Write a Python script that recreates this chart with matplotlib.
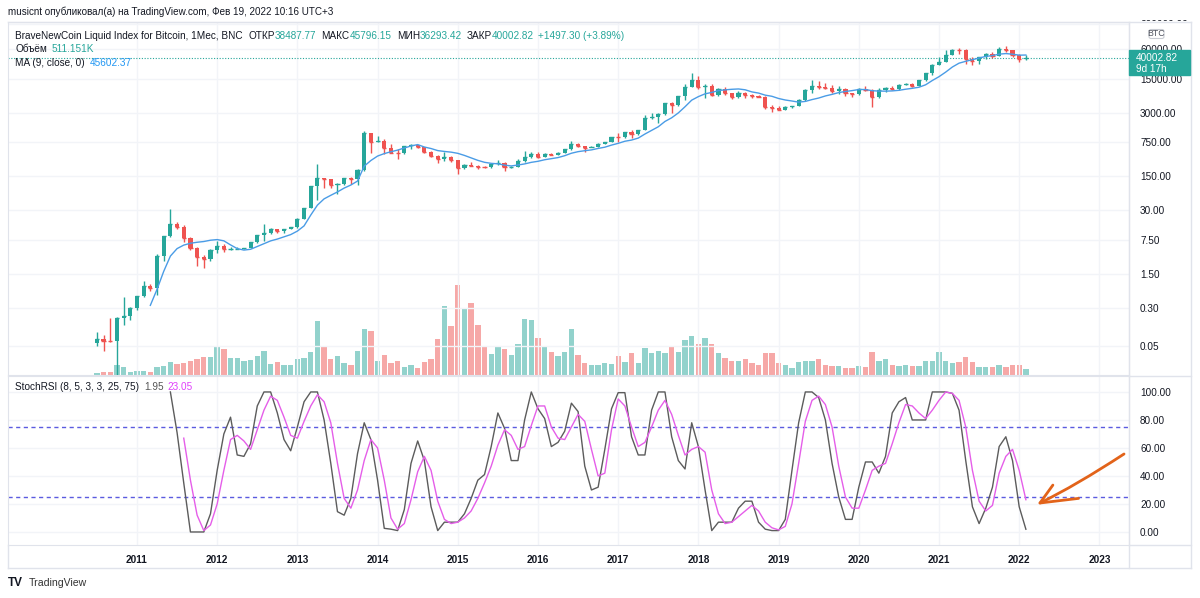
import numpy as np
import pandas as pd
import matplotlib
matplotlib.use("Agg")
import matplotlib.pyplot as plt
from matplotlib.lines import Line2D
from matplotlib.patches import Rectangle, FancyBboxPatch, PathPatch
from matplotlib.path import Path
from matplotlib.transforms import IdentityTransform, Bbox
from matplotlib.ticker import NullLocator

plt.rcParams['font.family'] = ['Liberation Sans', 'DejaVu Sans']

# monthly BNC BTC index, Jul 2010 .. Feb 2022
opens = [0.058, 0.070, 0.064, 0.062, 0.190, 0.210,
         0.30, 0.52, 0.86, 0.78, 3.50, 8.74, 16.1, 13.4, 8.2, 5.1, 3.25, 3.0,
         4.7, 5.5, 4.86, 4.9, 4.95, 5.17, 6.69, 9.35, 10.15, 12.4, 11.2, 12.6,
         13.5, 20.4, 33.4, 93, 139, 129, 97, 106, 141, 133, 204, 1130,
         757, 800, 560, 457, 448, 628, 640, 587, 481, 388, 338, 378,
         320, 217, 254, 244, 236, 230, 263, 284, 230, 236, 314, 377,
         430, 368, 437, 416, 448, 531, 673, 624, 575, 608, 698, 742,
         963, 958, 1190, 1080, 1348, 2300, 2480, 2875, 4700, 4340, 6468, 10233,
         14156, 10221, 10397, 6973, 9240, 7494, 6404, 7780, 7037, 6625, 6318, 4017,
         3742, 3457, 3854, 4105, 5350, 8574, 10817, 10085, 9630, 8293, 9199, 7569,
         7193, 9350, 8599, 6438, 8658, 9461, 9137, 11323, 11680, 10784, 13781, 19625,
         29001, 33114, 45137, 58918, 57750, 37332, 35040, 41626, 47166, 43790, 61318, 57005,
         46306, 38487.77]
highs = [0.095, 0.085, 0.190, 0.195, 0.500, 0.310,
         0.54, 1.06, 0.95, 3.80, 9.00, 31.9, 17.5, 15.0, 8.6, 5.4, 3.6, 4.8,
         7.2, 6.1, 5.4, 5.4, 5.2, 6.8, 9.5, 16.0, 12.9, 12.6, 12.7, 13.8,
         21.0, 33.8, 95, 266, 139, 130, 111, 141, 146, 211, 1242, 1150,
         1000, 850, 700, 550, 630, 680, 660, 600, 490, 415, 460, 390,
         320, 270, 300, 260, 248, 268, 320, 288, 243, 336, 500, 470,
         462, 447, 440, 470, 550, 780, 705, 630, 630, 720, 750, 975,
         1160, 1210, 1300, 1350, 2760, 3000, 2930, 4770, 4980, 6470, 11500, 19800,
         17200, 11800, 11700, 9800, 10000, 7770, 8500, 7800, 7410, 7000, 6600, 4250,
         4100, 4200, 4110, 5640, 9100, 13900, 13200, 12300, 10950, 10400, 9500, 7750,
         9600, 10500, 9200, 9450, 10080, 10400, 11450, 12480, 12100, 14100, 19900, 29300,
         41900, 58300, 61800, 64800, 59600, 41300, 42300, 50500, 52900, 67000, 69000, 59100,
         47900, 45796.15]
lows = [0.050, 0.040, 0.060, 0.013, 0.135, 0.170,
        0.27, 0.50, 0.68, 0.56, 2.80, 8.70, 12.7, 6.6, 4.6, 2.2, 2.0, 2.8,
        4.0, 4.2, 4.7, 4.8, 4.9, 5.1, 6.4, 7.0, 9.9, 10.1, 10.5, 12.3,
        13.3, 19.5, 33, 50, 85, 88, 65, 100, 103, 100, 196, 450,
        750, 430, 440, 340, 420, 545, 575, 440, 370, 275, 310, 300,
        165, 210, 238, 214, 226, 220, 253, 195, 225, 236, 300, 350,
        350, 365, 400, 410, 440, 520, 600, 470, 590, 600, 680, 740,
        750, 930, 890, 1070, 1350, 2200, 1830, 2640, 2950, 4150, 5500, 10000,
        9100, 6000, 6600, 6500, 7050, 5780, 6100, 5880, 6140, 6200, 3550, 3120,
        3350, 3380, 3700, 4080, 5330, 7500, 9100, 9400, 7700, 7300, 6500, 6430,
        6860, 8450, 3850, 6150, 8120, 8900, 8960, 10970, 9880, 10520, 13200, 17600,
        28100, 32300, 45000, 47000, 30000, 28800, 29300, 37400, 39600, 43300, 53500, 42000,
        33000, 36293.42]
closes = [0.070, 0.064, 0.062, 0.190, 0.210, 0.300,
          0.52, 0.86, 0.78, 3.50, 8.74, 16.1, 13.4, 8.2, 5.1, 3.25, 3.0, 4.7,
          5.5, 4.86, 4.9, 4.95, 5.17, 6.69, 9.35, 10.15, 12.4, 11.2, 12.6, 13.5,
          20.4, 33.4, 93, 139, 129, 97, 106, 141, 133, 204, 1130, 757,
          800, 560, 457, 448, 628, 640, 587, 481, 388, 338, 378, 320,
          217, 254, 244, 236, 230, 263, 284, 230, 236, 314, 377, 430,
          368, 437, 416, 448, 531, 673, 624, 575, 608, 698, 742, 963,
          958, 1190, 1080, 1348, 2300, 2480, 2875, 4700, 4340, 6468, 10233, 14156,
          10221, 10397, 6973, 9240, 7494, 6404, 7780, 7037, 6625, 6318, 4017, 3742,
          3457, 3854, 4105, 5350, 8574, 10817, 10085, 9630, 8293, 9199, 7569, 7193,
          9350, 8599, 6438, 8658, 9461, 9137, 11323, 11680, 10784, 13781, 19625, 29001,
          33114, 45137, 58918, 57750, 37332, 35040, 41626, 47166, 43790, 61318, 57005, 46306,
          38487.77, 40002.82]
# volume, relative units
volume = [5, 9, 9, 30, 23, 10, 12, 12, 8, 24,
          26, 39, 31, 35, 42, 48, 54, 52, 86, 76,
          50, 50, 40, 44, 56, 72, 33, 39, 28, 30,
          46, 50, 68, 159, 82, 46, 56, 34, 30, 72,
          135, 131, 40, 60, 36, 42, 24, 28, 20, 38,
          48, 105, 203, 145, 265, 196, 213, 146, 86, 62,
          86, 76, 60, 92, 164, 163, 108, 82, 69, 56,
          69, 135, 58, 36, 28, 30, 34, 32, 56, 38,
          66, 36, 80, 66, 72, 66, 84, 68, 104, 116,
          90, 108, 92, 66, 50, 42, 42, 48, 36, 28,
          66, 64, 34, 30, 22, 38, 42, 42, 46, 30,
          26, 26, 22, 20, 26, 24, 68, 40, 46, 28,
          26, 28, 26, 26, 40, 40, 68, 42, 34, 38,
          52, 38, 24, 24, 24, 28, 24, 28, 30, 18]
last_volume = '511.151K'
last_ma = 45602.37

# StochRSI: K from Jun 2011, D from Aug 2011
K_START, D_START = 11, 13
stoch_k = [100, 71, 35, 0, 0, 0, 13, 44, 70, 82,
           55, 54, 63, 90, 100, 100, 85, 66, 58, 75,
           93, 100, 100, 80, 49, 14.5, 12, 24, 56, 78,
           66, 37, 2.6, 2, 1, 16, 49, 65, 51, 18,
           1, 7, 7, 7, 13, 24, 37, 41, 61, 85,
           74, 51, 51, 80, 100, 88, 81, 61, 64, 72,
           92, 86, 47, 30, 32, 59, 88, 99.5, 99.5, 68,
           55, 55, 87, 100, 100, 68, 51, 45, 78, 61,
           30, 1, 7, 7, 7, 17, 22, 22, 7, 2,
           1, 1, 9, 44, 78, 100, 100, 96, 80, 49,
           25, 9, 9, 32, 50, 50, 42, 54, 85, 93,
           96, 80, 80, 80, 100, 100, 100, 99, 87, 51,
           18, 6, 17, 32, 61, 68, 51, 18, 1.95]
stoch_d = [67, 37, 12, 1, 5, 20, 44, 66,
           69, 65, 59, 73, 87, 97, 94, 82, 69, 67,
           79, 90, 98, 93, 78, 49, 24, 17, 30, 51,
           66, 60, 37, 10, 2, 6, 23, 43, 54, 44,
           22, 9, 6, 7, 10, 15, 24, 35, 47, 62,
           73, 69, 59, 61, 76, 90, 90, 75, 67, 66,
           75, 84, 79, 59, 40, 42, 73, 95, 90, 75,
           61, 64, 75, 87, 94, 84, 69, 55, 59, 61,
           57, 30, 13, 6, 7, 11, 15, 19, 15, 7,
           3, 1.5, 4, 20, 49, 79, 94, 97, 91, 75,
           47, 25, 17, 17, 30, 44, 47, 49, 63, 78,
           91, 90, 85, 81, 87, 94, 100, 99, 94, 75,
           44, 22, 15, 19, 42, 54, 59, 44, 23.05]

price_ticks = [0.05, 0.30, 1.50, 7.50, 30, 150, 750, 3000, 15000, 60000, 200000]
stoch_ticks = [0, 20, 40, 60, 80, 100]
years = list(range(2011, 2024))

W, H = 1200, 598
UP, DOWN = '#26a69a', '#ef5350'
GRID, BORDER, TXT = '#f2f4f8', '#e0e3eb', '#131722'

months = pd.date_range('2010-07-01', periods=len(closes), freq='MS')
x = np.asarray(months.year + (months.month - 1) / 12.0, dtype=float)
o, h, l, c = map(np.asarray, (opens, highs, lows, closes))
up = c >= o
cols = np.where(up, UP, DOWN)

fig = plt.figure(figsize=(W / 100, H / 100), dpi=100)
fig.patch.set_facecolor('white')
pix = IdentityTransform()


def fy(Y):
    return H - Y


def line(xs, ys, **kw):
    kw.setdefault('color', BORDER)
    kw.setdefault('lw', 1)
    fig.add_artist(Line2D(xs, [fy(v) for v in ys], transform=pix, **kw))


def runs(X, Y, parts, size=7.4):
    r = fig.canvas.get_renderer()
    for s, col, gap in parts:
        t = fig.text(X, fy(Y), s, color=col, fontsize=size, va='center', ha='left', transform=pix)
        X += t.get_window_extent(r).width + gap


L, R = 8, 1129
ax = fig.add_axes([L / W, 1 - 375 / H, (R - L) / W, (375 - 22) / H])
axs = fig.add_axes([L / W, 1 - 545 / H, (R - L) / W, (545 - 376) / H], sharex=ax)

# volume overlay
axv = ax.twinx()
axv.bar(x, volume, width=0.8 / 12, color=cols, alpha=0.5, linewidth=0)
axv.set_ylim(0, 1040)
axv.axis('off')
ax.set_zorder(axv.get_zorder() + 1)
ax.patch.set_visible(False)

# candles
ax.set_yscale('log')
bw = 0.62 / 12
ax.vlines(x, l, h, colors=cols, lw=1, zorder=3)
bot = np.minimum(o, c)
ax.bar(x, np.maximum(o, c) - bot, bottom=bot, width=bw, color=cols, linewidth=0, zorder=4)
ax.hlines(c, x - bw / 2, x + bw / 2, colors=cols, lw=1, zorder=4)

ma = pd.Series(closes).rolling(9).mean()
ax.plot(x, ma, color='#4a9ce6', lw=1, zorder=5)
ax.axhline(closes[-1], color=UP, ls=(0, (1, 1.5)), lw=0.8, zorder=2)

ax.set_xlim(2009.392, 2023.369)
ax.set_ylim(0.0127, 216800)
ax.yaxis.tick_right()
ax.set_yticks(price_ticks)
ax.set_yticklabels([f'{v:.2f}' for v in price_ticks])
ax.yaxis.set_minor_locator(NullLocator())
ax.set_xticks(years)
ax.tick_params(axis='y', length=0, pad=8, labelsize=7.2, labelcolor=TXT)
ax.tick_params(axis='x', length=0, labelbottom=False)
ax.grid(True, color=GRID, lw=1)
for sp in ax.spines.values():
    sp.set_color(BORDER)
for lab in ax.get_yticklabels():
    if lab.get_text() == '200000.00':
        lab.set_clip_box(Bbox([[0, fy(21)], [W, H]]))
        lab.set_clip_on(True)

# StochRSI pane
axs.plot(x[K_START:], stoch_k, color='#5c5c5c', lw=1, zorder=3)
axs.plot(x[D_START:], stoch_d, color='#e55ee9', lw=1, zorder=4)
for lvl in (25, 75):
    axs.axhline(lvl, color='#5b5be0', ls=(0, (3, 2.5)), lw=1, zorder=2)
axs.set_ylim(-9.3, 111.4)
axs.yaxis.tick_right()
axs.set_yticks(stoch_ticks)
axs.set_yticklabels([f'{v:.2f}' for v in stoch_ticks])
axs.set_xticks(years)
axs.set_xticklabels([str(yr) for yr in years])
axs.tick_params(axis='y', length=0, pad=8, labelsize=7.2, labelcolor=TXT)
axs.tick_params(axis='x', length=0, pad=7, labelsize=7.2, labelcolor=TXT)
for lab in axs.get_xticklabels():
    lab.set_fontweight('bold')
axs.grid(True, color=GRID, lw=1)
for sp in axs.spines.values():
    sp.set_color(BORDER)

# hand drawn arrow
orange = '#e2631a'
arrow = Path([(2023.307, 55.7), (2022.70, 33.0), (2022.259, 20.7)],
             [Path.MOVETO, Path.CURVE3, Path.CURVE3])
axs.add_patch(PathPatch(arrow, fill=False, ec=orange, lw=2, capstyle='round', zorder=6))
axs.plot([2022.42, 2022.259, 2022.74], [33.5, 20.7, 24.0], color=orange, lw=2,
         solid_capstyle='round', solid_joinstyle='round', zorder=6)

# outer frame
line([L, 1191], [22, 22])
line([1191, 1191], [22, 568])
line([L, 1191], [568, 568])
line([L, L], [545, 568])
line([R, R], [22, 568])
line([R, 1191], [375.5, 375.5])
line([R, 1191], [545, 545])

# last price tag
yp = ax.transData.transform((2015, closes[-1]))[1]
Yp = H - yp
fig.add_artist(Rectangle((R, fy(Yp + 17.5)), 1190 - R, 25, transform=pix, color=UP, zorder=10))
fig.text(1136, fy(Yp + 0.5), f'{closes[-1]:.2f}', color='white', fontsize=7.2, va='center', transform=pix, zorder=11)
fig.text(1136, fy(Yp + 11), '9d 17h', color='white', fontsize=7.2, va='center', transform=pix, zorder=11)
fig.add_artist(FancyBboxPatch((1149, fy(38.5)), 15, 9, boxstyle='round,pad=0,rounding_size=2',
                              transform=pix, fc='white', ec='#c9ccd3', lw=0.8, zorder=10))
fig.text(1156.5, fy(34), 'BTC', color='#50535e', fontsize=6.3, ha='center', va='center', transform=pix, zorder=11)

# texts
fig.text(8, fy(12), 'musicnt опубликовал(а) на TradingView.com, Фев 19, 2022 10:16 UTC+3',
         color=TXT, fontsize=7.1, va='center', transform=pix)
runs(15, 36, [('BraveNewCoin Liquid Index for Bitcoin, 1Мес, BNC', TXT, 6),
              ('ОТКР', TXT, 0), (f'{opens[-1]:.2f}', UP, 5),
              ('МАКС', TXT, 0), (f'{highs[-1]:.2f}', UP, 5),
              ('МИН', TXT, 0), (f'{lows[-1]:.2f}', UP, 5),
              ('ЗАКР', TXT, 0), (f'{closes[-1]:.2f}', UP, 4),
              ('+1497.30 (+3.89%)', UP, 0)], size=7.2)
runs(15, 49.5, [('Объём', TXT, 5), (last_volume, UP, 0)], size=7.2)
runs(15, 63, [('MA (9, close, 0)', TXT, 5), (f'{last_ma:.2f}', '#2196f3', 0)], size=7.2)
runs(15, 387, [('StochRSI (8, 5, 3, 3, 25, 75)', TXT, 5), (f'{stoch_k[-1]:.2f}', '#555555', 4),
               (f'{stoch_d[-1]:.2f}', '#e040fb', 0)], size=7.2)
fig.text(8, fy(583), 'TV', color=TXT, fontsize=8.5, fontweight='bold', va='center', transform=pix)
fig.text(29, fy(583), 'TradingView', color='#333333', fontsize=7.6, va='center', transform=pix)

fig.savefig('out.png', dpi=100, facecolor='white')
